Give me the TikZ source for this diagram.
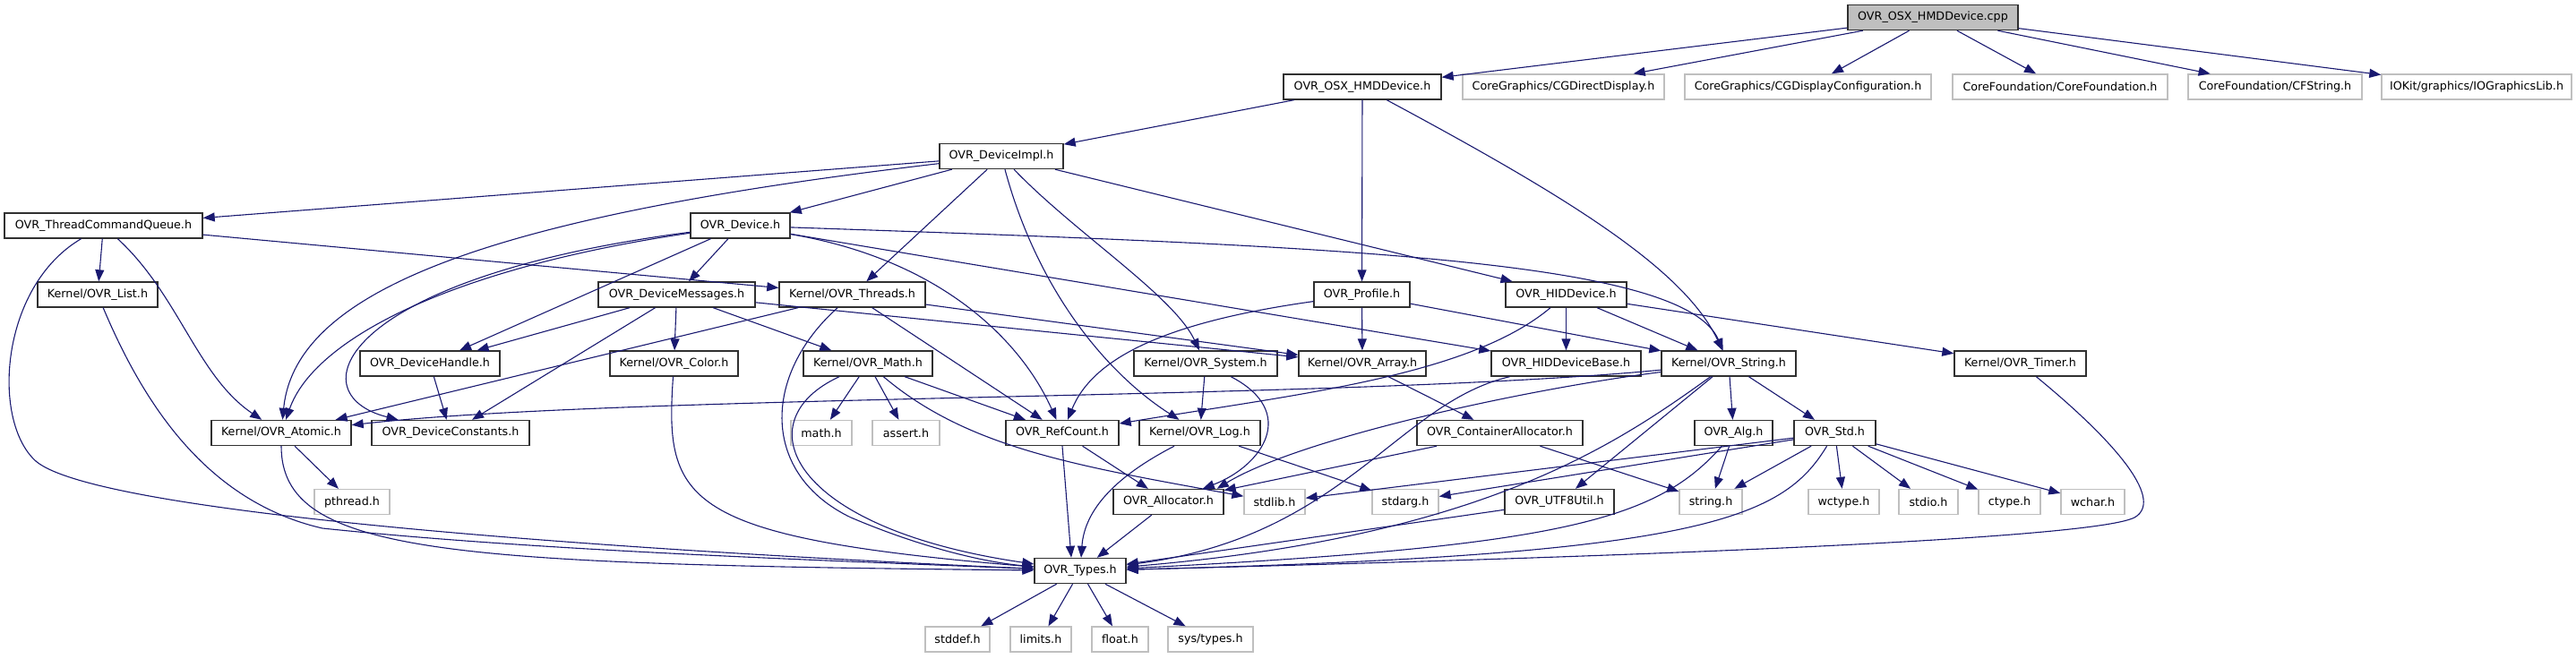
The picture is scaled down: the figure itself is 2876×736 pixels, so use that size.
\documentclass[tikz,border=0pt]{standalone}
\usepackage{fontspec}
\setmainfont{DejaVu Sans}
\usetikzlibrary{arrows.meta}
\definecolor{edgec}{HTML}{191970}
\definecolor{sysc}{HTML}{BFBFBF}
\definecolor{boxc}{HTML}{303030}
\begin{document}
\begin{tikzpicture}[x=1pt,y=-1pt,
  nb/.style={draw=boxc, line width=1.4pt, fill=white, minimum height=28pt, inner sep=0pt, font=\fontsize{12.7}{15}\selectfont},
  ns/.style={nb, draw=sysc},
  e/.style={draw=edgec, line width=1.1pt, -{Triangle[length=13pt,width=10pt]}}]
\useasboundingbox (0,0) rectangle (2876,736);
% row 1
\node[nb, fill=sysc, minimum width=190pt] (cpp) at (2158,19.5) {OVR\_OSX\_HMDDevice.cpp};
% row 2
\node[nb, minimum width=176pt] (osxh) at (1521,97) {OVR\_OSX\_HMDDevice.h};
\node[ns, minimum width=225pt] (cgdd) at (1745.5,97) {CoreGraphics/CGDirectDisplay.h};
\node[ns, minimum width=275pt] (cgdc) at (2018.5,97) {CoreGraphics/CGDisplayConfiguration.h};
\node[ns, minimum width=240pt] (cf) at (2300,97) {CoreFoundation/CoreFoundation.h};
\node[ns, minimum width=194pt] (cfs) at (2540,97) {CoreFoundation/CFString.h};
\node[ns, minimum width=212pt] (iog) at (2765,97) {IOKit/graphics/IOGraphicsLib.h};
% row 3
\node[nb, minimum width=138pt] (impl) at (1118,174.5) {OVR\_DeviceImpl.h};
% row 4
\node[nb, minimum width=221pt] (tcq) at (115.5,252) {OVR\_ThreadCommandQueue.h};
\node[nb, minimum width=111pt] (dev) at (826.5,252) {OVR\_Device.h};
% row 5
\node[nb, minimum width=134pt] (list) at (109,329) {Kernel/OVR\_List.h};
\node[nb, minimum width=175pt] (msgs) at (755.5,329) {OVR\_DeviceMessages.h};
\node[nb, minimum width=163pt] (thr) at (951.5,329) {Kernel/OVR\_Threads.h};
\node[nb, minimum width=107pt] (prof) at (1520.5,329) {OVR\_Profile.h};
\node[nb, minimum width=135pt] (hid) at (1748.5,329) {OVR\_HIDDevice.h};
% row 6
\node[nb, minimum width=156pt] (dh) at (480,406) {OVR\_DeviceHandle.h};
\node[nb, minimum width=143pt] (color) at (752.5,406) {Kernel/OVR\_Color.h};
\node[nb, minimum width=144pt] (math) at (969,406) {Kernel/OVR\_Math.h};
\node[nb, minimum width=160pt] (sys) at (1346,406) {Kernel/OVR\_System.h};
\node[nb, minimum width=142pt] (arr) at (1521,406) {Kernel/OVR\_Array.h};
\node[nb, minimum width=167pt] (hidb) at (1748.5,406) {OVR\_HIDDeviceBase.h};
\node[nb, minimum width=150pt] (str) at (1930,406) {Kernel/OVR\_String.h};
\node[nb, minimum width=147pt] (timer) at (2255.5,406) {Kernel/OVR\_Timer.h};
% row 7
\node[nb, minimum width=156pt] (atom) at (314,483.5) {Kernel/OVR\_Atomic.h};
\node[nb, minimum width=176pt] (dc) at (503,483.5) {OVR\_DeviceConstants.h};
\node[ns, minimum width=68pt] (mathh) at (917,483.5) {math.h};
\node[ns, minimum width=75pt] (assrt) at (1011.5,483.5) {assert.h};
\node[nb, minimum width=126pt] (rc) at (1186,483.5) {OVR\_RefCount.h};
\node[nb, minimum width=135pt] (log) at (1339.5,483.5) {Kernel/OVR\_Log.h};
\node[nb, minimum width=185pt] (ca) at (1674.5,483.5) {OVR\_ContainerAllocator.h};
\node[nb, minimum width=87pt] (alg) at (1935.5,483.5) {OVR\_Alg.h};
\node[nb, minimum width=91pt] (std) at (2048.5,483.5) {OVR\_Std.h};
% row 8
\node[ns, minimum width=84pt] (pth) at (393,560.5) {pthread.h};
\node[nb, minimum width=123pt] (alloc) at (1304.5,560.5) {OVR\_Allocator.h};
\node[ns, minimum width=68pt] (stdlib) at (1423,560.5) {stdlib.h};
\node[ns, minimum width=74pt] (stdarg) at (1569,560.5) {stdarg.h};
\node[nb, minimum width=122pt] (utf8) at (1741,560.5) {OVR\_UTF8Util.h};
\node[ns, minimum width=70pt] (strh) at (1910,560.5) {string.h};
\node[ns, minimum width=79pt] (wctype) at (2058.5,560.5) {wctype.h};
\node[ns, minimum width=66pt] (stdio) at (2153,560.5) {stdio.h};
\node[ns, minimum width=69pt] (ctype) at (2243.5,560.5) {ctype.h};
\node[ns, minimum width=71pt] (wchar) at (2336.5,560.5) {wchar.h};
% row 9
\node[nb, minimum width=102pt] (types) at (1206,637.5) {OVR\_Types.h};
% row 10
\node[ns, minimum width=72pt] (stddef) at (1069,714) {stddef.h};
\node[ns, minimum width=68pt] (limits) at (1162,714) {limits.h};
\node[ns, minimum width=63pt] (float) at (1250.5,714) {float.h};
\node[ns, minimum width=95pt] (systypes) at (1351.5,714) {sys/types.h};

% edges from cpp
\draw[e] (cpp) -- (osxh);
\draw[e] (cpp) -- (cgdd);
\draw[e] (cpp) -- (cgdc);
\draw[e] (cpp) -- (cf);
\draw[e] (cpp) -- (cfs);
\draw[e] (cpp) -- (iog);
% osxh
\draw[e] (osxh) -- (impl);
\draw[e] (osxh) -- (prof);
\draw[e] (osxh) .. controls (1750,220) and (1880,300) .. (str);
% impl
\draw[e] (impl) -- (tcq);
\draw[e] (impl) .. controls (560,240) and (330,320) .. (atom);
\draw[e] (impl) -- (dev);
\draw[e] (impl) -- (thr);
\draw[e] (impl) .. controls (1160,330) and (1240,420) .. (log);
\draw[e] (impl) .. controls (1200,260) and (1310,330) .. (sys);
\draw[e] (impl) -- (hid);
% tcq
\draw[e] (tcq) -- (thr);
\draw[e] (tcq) -- (list);
\draw[e] (tcq) .. controls (200,330) and (220,420) .. (atom);
\draw[e] (tcq) .. controls (0,320) and (-10,470) .. (40,515) .. controls (110,575) and (700,615) .. (types);
% list
\draw[e] (list) .. controls (160,450) and (230,560) .. (360,590) .. controls (600,615) and (900,625) .. (types);
% atom
\draw[e] (atom) -- (pth);
\draw[e] (atom) .. controls (314,620) and (500,630) .. (types);
% dev
\draw[e] (dev) -- (msgs);
\draw[e] (dev) .. controls (500,300) and (350,380) .. (atom);
\draw[e] (dev) .. controls (380,310) and (330,440) .. (dc);
\draw[e] (dev) -- (dh);
\draw[e] (dev) .. controls (1050,290) and (1140,380) .. (rc);
\draw[e] (dev) .. controls (1500,275) and (1880,290) .. (str);
\draw[e] (dev) -- (hidb);
% msgs
\draw[e] (msgs) -- (dh);
\draw[e] (msgs) -- (dc);
\draw[e] (msgs) -- (color);
\draw[e] (msgs) -- (math);
\draw[e] (msgs) -- (arr);
% thr
\draw[e] (thr) -- (atom);
\draw[e] (thr) .. controls (850,420) and (850,530) .. (950,578) .. controls (1030,612) and (1100,628) .. (types);
\draw[e] (thr) -- (rc);
\draw[e] (thr) -- (arr);
% prof
\draw[e] (prof) -- (arr);
\draw[e] (prof) -- (str);
\draw[e] (prof) .. controls (1300,360) and (1220,400) .. (rc);
% hid
\draw[e] (hid) -- (hidb);
\draw[e] (hid) -- (str);
\draw[e] (hid) -- (timer);
\draw[e] (hid) .. controls (1640,420) and (1450,440) .. (rc);
% sys
\draw[e] (sys) -- (log);
\draw[e] (sys) .. controls (1450,460) and (1410,520) .. (alloc);
% hidb
\draw[e] (hidb) .. controls (1560,450) and (1500,600) .. (types);
% str
\draw[e] (str) .. controls (1500,447) and (700,440) .. (atom);
\draw[e] (str) .. controls (1700,435) and (1450,490) .. ([xshift=-8pt]alloc.north east);
\draw[e] (str) .. controls (1800,500) and (1650,600) .. (types);
\draw[e] (str) -- (utf8);
\draw[e] (str) -- (alg);
\draw[e] (str) -- (std);
% arr, ca
\draw[e] (arr) -- (ca);
\draw[e] (ca) -- (alloc);
\draw[e] (ca) -- (strh);
% alg
\draw[e] (alg) -- (strh);
\draw[e] (alg) .. controls (1850,580) and (1750,610) .. (types);
% std
\draw[e] (std) -- (strh);
\draw[e] (std) -- (wctype);
\draw[e] (std) -- (stdio);
\draw[e] (std) -- (ctype);
\draw[e] (std) -- (wchar);
\draw[e] (std) -- (stdlib);
\draw[e] (std) -- (stdarg);
\draw[e] (std) .. controls (1990,580) and (1900,620) .. (types);
% log
\draw[e] (log) .. controls (1230,540) and (1210,580) .. (types);
\draw[e] (log) -- (stdarg);
% rc
\draw[e] (rc) -- (alloc);
\draw[e] (rc.south) -- ([xshift=-10pt]types.north);
% math
\draw[e] (math) -- (mathh);
\draw[e] (math) -- (assrt);
\draw[e] (math) -- (rc);
\draw[e] (math) .. controls (830,470) and (880,590) .. (types);
\draw[e] (math) .. controls (1080,500) and (1200,520) .. (stdlib);
% color
\draw[e] (color) .. controls (742,560) and (760,600) .. (types);
% dh
\draw[e] (dh) -- (dc);
% alloc, utf8
\draw[e] (alloc) -- (types);
\draw[e] (utf8) -- (types);
% timer
\draw[e] (timer) .. controls (2370,500) and (2415,560) .. (2383,578) .. controls (2330,605) and (1700,625) .. (types);
% types
\draw[e] (types) -- (stddef);
\draw[e] (types) -- (limits);
\draw[e] (types) -- (float);
\draw[e] (types) -- (systypes);
\end{tikzpicture}
\end{document}
